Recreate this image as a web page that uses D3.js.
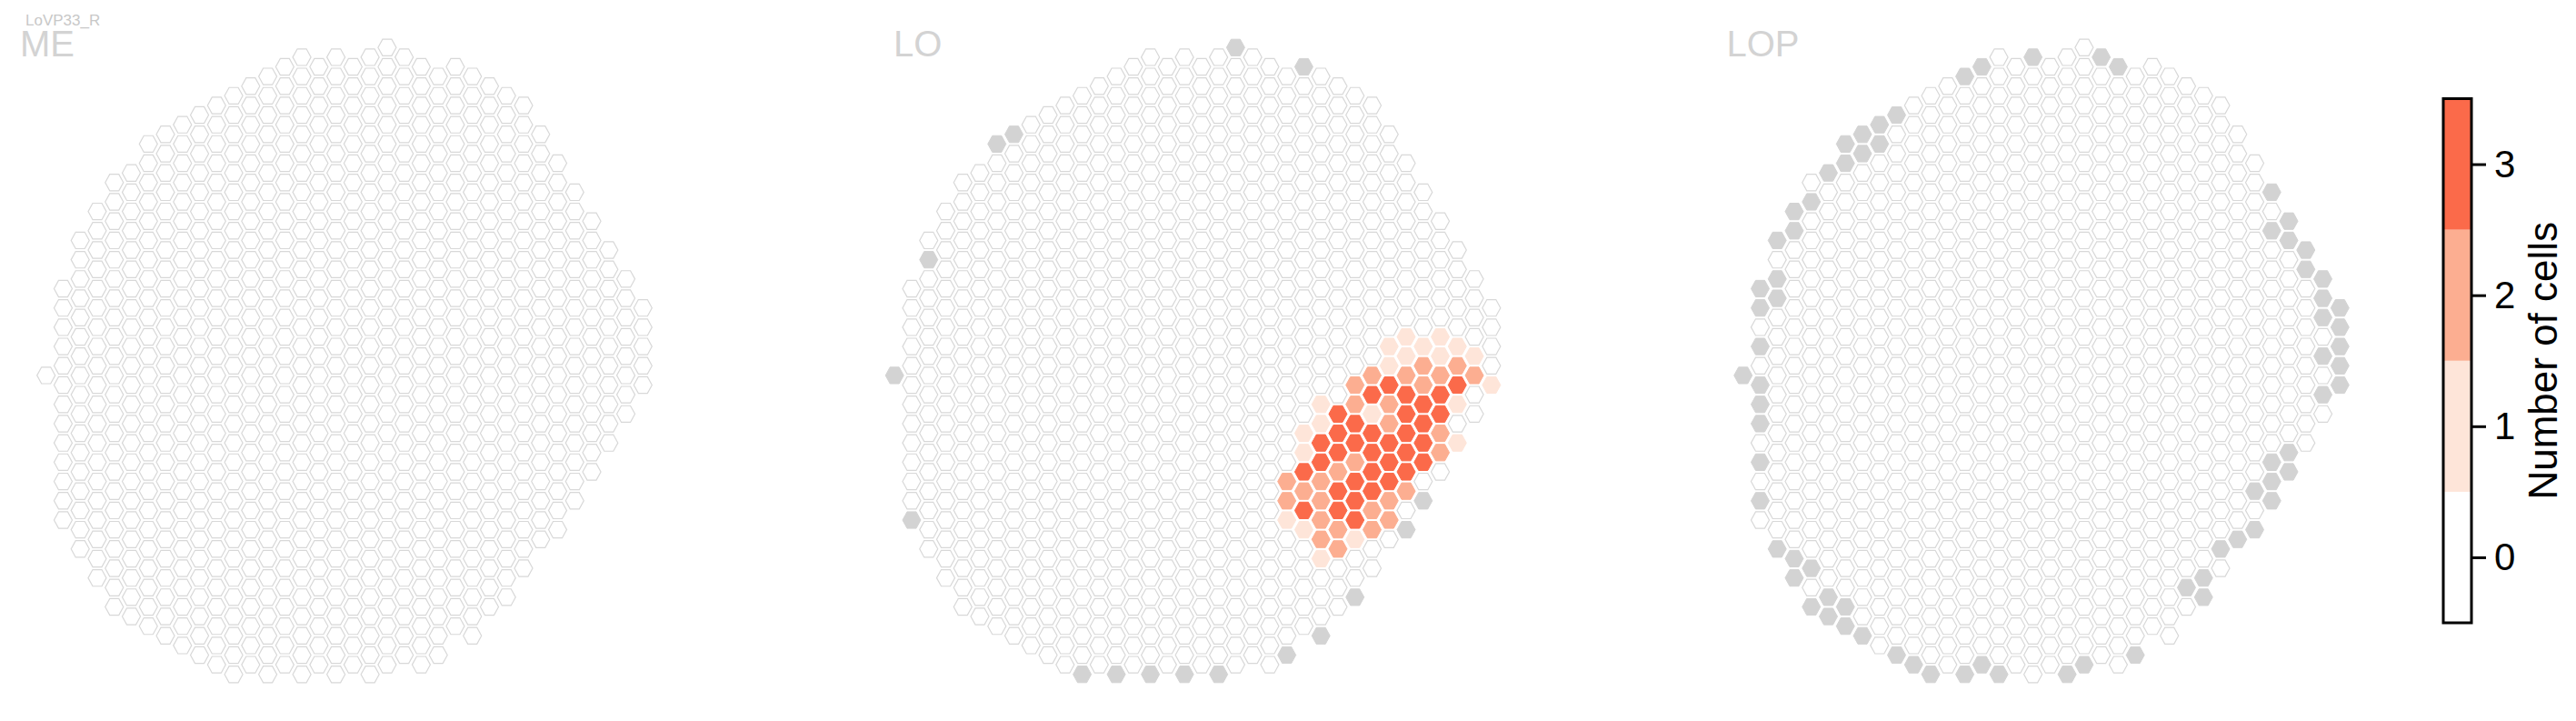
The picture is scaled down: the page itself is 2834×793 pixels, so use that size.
<!DOCTYPE html>
<html>
<head>
<meta charset="utf-8">
<script src="https://cdn.jsdelivr.net/npm/d3@7"></script>
<style>
  html, body { margin: 0; padding: 0; background: #ffffff; }
  svg { display: block; font-family: "Liberation Sans", Arial, sans-serif; }
</style>
</head>
<body>
<svg id="chart" width="2834" height="793"></svg>
<script>
// ---------------- data ----------------
const title = "LoVP33_R";
const panelNames = ["ME", "LO", "LOP"];

// hex columns (index 0..35), first and last row index (rows step by 2)
const colIndex = d3.range(36);
const colTop = [0,-9,-14,-17,-20,-21,-24,-25,-26,-27,-28,-29,-30,-31,-32,-33,-32,-33,-32,-33,-34,-33,-32,-31,-32,-31,-30,-29,-28,-25,-22,-19,-16,-13,-10,-7];
const colBot = [0,15,18,21,24,25,26,27,28,29,30,31,30,31,30,31,30,31,30,31,30,29,30,29,26,27,24,23,20,17,16,13,10,7,4,1];

// LO: [column, row, number of cells]
const loValues = [
  [30,-4,1],[32,-4,1],
  [29,-3,1],[31,-3,1],[33,-3,1],
  [30,-2,1],[32,-2,1],[34,-2,1],
  [29,-1,1],[31,-1,2],[33,-1,2],
  [28,0,2],[30,0,2],[32,0,2],[34,0,2],
  [27,1,2],[29,1,3],[31,1,2],[33,1,3],[35,1,1],
  [28,2,3],[30,2,3],[32,2,3],
  [25,3,1],[27,3,2],[29,3,2],[31,3,3],[33,3,1],
  [26,4,3],[28,4,1],[30,4,3],[32,4,3],
  [25,5,1],[27,5,3],[29,5,2],[31,5,3],
  [24,6,1],[26,6,3],[28,6,3],[30,6,3],[32,6,2],
  [25,7,3],[27,7,3],[29,7,3],[31,7,3],[33,7,1],
  [24,8,1],[26,8,3],[28,8,3],[30,8,3],[32,8,2],
  [25,9,3],[27,9,2],[29,9,3],[31,9,3],
  [24,10,3],[26,10,2],[28,10,3],[30,10,3],
  [23,11,2],[25,11,2],[27,11,3],[29,11,3],
  [24,12,2],[26,12,3],[28,12,3],[30,12,2],
  [23,13,2],[25,13,2],[27,13,3],[29,13,2],
  [24,14,3],[26,14,3],[28,14,2],
  [23,15,1],[25,15,2],[27,15,3],[29,15,2],
  [24,16,1],[26,16,2],[28,16,2],
  [25,17,2],[27,17,1],
  [26,18,2],
  [25,19,1]
];

// columns absent in the neuropil (drawn grey)
const loMissing = [[0,0],[1,15],[2,-12],[6,-24],[7,-25],[20,-34],[24,-32],[11,31],[13,31],[15,31],[17,31],[19,31],[23,29],[25,27],[27,23],[30,16],[31,13]];
const lopMissing = [
  [17,-33],[21,-33],[14,-32],[22,-32],[13,-31],
  [9,-27],[8,-26],[7,-25],[8,-24],[6,-24],[7,-23],[6,-22],[5,-21],[4,-18],[3,-17],[3,-15],[2,-14],[2,-10],[1,-9],[2,-8],[1,-7],[1,-3],[0,0],[1,1],[1,3],[1,5],[1,9],[1,13],
  [2,18],[3,19],[4,20],[3,21],[5,23],[4,24],[6,24],[5,25],[6,26],[7,27],[9,29],[10,30],[11,31],[13,31],[14,30],[15,31],[19,31],[20,30],[23,29],
  [31,-19],[32,-16],[31,-15],[32,-14],[33,-13],[33,-11],[34,-10],[34,-8],[35,-7],[34,-6],[35,-5],[35,-3],[34,-2],[35,-1],[35,1],[34,2],
  [32,8],[31,9],[32,10],[31,11],[30,12],[31,13],[30,16],[29,17],[28,18],[27,21],[26,22],[27,23]
];

const cbTicks = [0, 1, 2, 3];
const cbColors = ["#ffffff", "#fee5d9", "#fcae91", "#fb6a4a"];
const cbLabel = "Number of cells";

// ---------------- drawing ----------------
const svg = d3.select("#chart");
const missingFill = "#d3d3d3";
const emptyStroke = "#d8d8d8";
const labelColor = "#d3d3d3";

const color = d3.scaleThreshold().domain([0.5, 1.5, 2.5]).range(cbColors);

// grid cells
const cells = [];
colIndex.forEach(c => {
  for (let r = colTop[c]; r <= colBot[c]; r += 2) cells.push({c, r});
});

const key = (c, r) => c + "_" + r;
const panelData = [
  {name: "ME", values: new Map(), missing: new Set()},
  {name: "LO", values: new Map(loValues.map(d => [key(d[0], d[1]), d[2]])), missing: new Set(loMissing.map(d => key(d[0], d[1])))},
  {name: "LOP", values: new Map(), missing: new Set(lopMissing.map(d => key(d[0], d[1])))}
];

const panelX0 = [50.7, 984.2, 1917.7];
const labelX = [22, 983, 1899.5];
const colStep = 18.76;

const hw = 10, hh = 9.1;
const hexPath = `M${-hw},0L${-hw/2},${-hh}L${hw/2},${-hh}L${hw},0L${hw/2},${hh}L${-hw/2},${hh}Z`;

panelData.forEach((p, i) => {
  const x = d3.scaleLinear().domain([0, 35]).range([panelX0[i], panelX0[i] + 35 * colStep]);
  const y = d3.scaleLinear().domain([-34, 31]).range([52.3, 741.7]);
  const g = svg.append("g").attr("class", "panel-" + p.name);

  g.selectAll("path.hex")
    .data(cells)
    .join("path")
    .attr("class", "hex")
    .attr("d", hexPath)
    .attr("transform", d => `translate(${x(d.c)},${y(d.r)})`)
    .each(function(d) {
      const k = key(d.c, d.r);
      const sel = d3.select(this);
      if (p.missing.has(k)) {
        sel.attr("fill", missingFill).attr("stroke", missingFill).attr("stroke-width", 1);
      } else if (p.values.has(k)) {
        const col = color(p.values.get(k));
        sel.attr("fill", col).attr("stroke", col).attr("stroke-width", 1);
      } else {
        sel.attr("fill", "#ffffff").attr("stroke", emptyStroke).attr("stroke-width", 1.2);
      }
    });

  svg.append("text")
    .attr("x", labelX[i])
    .attr("y", 62)
    .attr("fill", labelColor)
    .attr("font-size", 40)
    .text(p.name);
});

svg.append("text")
  .attr("x", 28)
  .attr("y", 28)
  .attr("fill", "#c8c8c8")
  .attr("font-size", 17)
  .text(title);

// ---------------- colorbar ----------------
const cbX = 2688, cbW = 31, cbTop = 108.5, cbBottom = 685;
const cbY = d3.scaleLinear().domain([-0.5, 3.5]).range([cbBottom, cbTop]);
const cb = svg.append("g").attr("class", "colorbar");

cb.selectAll("rect.band")
  .data(cbTicks)
  .join("rect")
  .attr("class", "band")
  .attr("x", cbX)
  .attr("width", cbW)
  .attr("y", d => cbY(d + 0.5))
  .attr("height", d => cbY(d - 0.5) - cbY(d + 0.5))
  .attr("fill", d => color(d));

cb.append("rect")
  .attr("x", cbX)
  .attr("y", cbTop)
  .attr("width", cbW)
  .attr("height", cbBottom - cbTop)
  .attr("fill", "none")
  .attr("stroke", "#000")
  .attr("stroke-width", 3);

const axis = d3.axisRight(cbY).tickValues(cbTicks).tickFormat(d3.format("d")).tickSize(16).tickPadding(9);
const axG = cb.append("g")
  .attr("transform", `translate(${cbX + cbW},0)`)
  .call(axis);
axG.select(".domain").remove();
axG.selectAll(".tick line").attr("stroke", "#000").attr("stroke-width", 3);
axG.selectAll(".tick text")
  .attr("fill", "#000")
  .attr("font-size", 42)
  .attr("font-family", '"Liberation Sans", Arial, sans-serif');

cb.append("text")
  .attr("transform", `translate(2813,${(cbTop + cbBottom) / 2}) rotate(-90)`)
  .attr("text-anchor", "middle")
  .attr("font-size", 44)
  .attr("fill", "#000")
  .text(cbLabel);
</script>
</body>
</html>
